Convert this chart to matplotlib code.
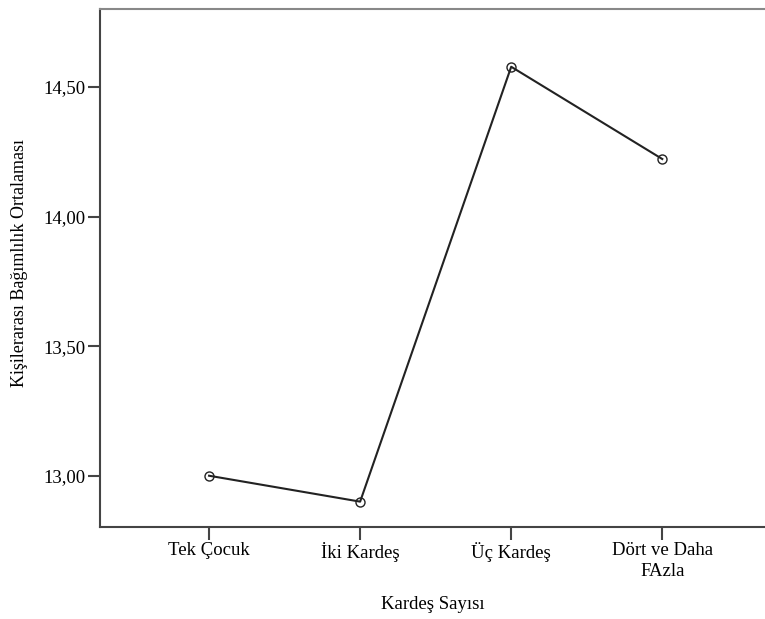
import matplotlib
matplotlib.use("Agg")
import matplotlib.pyplot as plt

categories = ["Tek Çocuk", "İki Kardeş", "Üç Kardeş", "Dört ve Daha\nFAzla"]
means = [13.00, 12.90, 14.578, 14.222]
yticks = [13.00, 13.50, 14.00, 14.50]
ytick_labels = ["13,00", "13,50", "14,00", "14,50"]

plt.rcParams['font.family'] = ['Liberation Serif', 'DejaVu Serif']

fig = plt.figure(figsize=(7.65, 6.19), dpi=100)
ax = fig.add_axes([100/765, 1 - 527.3/619, 665/765, (527.3 - 8.7)/619])

x = list(range(len(categories)))
ax.plot(x, means, color='#222222', lw=1.5, marker='o', markersize=6.5,
        markerfacecolor='none', markeredgecolor='#222222', markeredgewidth=1.0)

ax.set_xlim(-0.722, 3.68)
ax.set_ylim(12.801, 14.802)
ax.set_xticks(x)
ax.set_xticklabels(categories, fontsize=13.5, linespacing=1.3)
ax.set_yticks(yticks)
ax.set_yticklabels(ytick_labels, fontsize=13.5)
ax.tick_params(axis='both', direction='out', length=9, width=1.5, color='#444444', pad=1.5)

for side in ['left', 'bottom', 'top']:
    ax.spines[side].set_color('#444444')
    ax.spines[side].set_linewidth(1.5)
ax.spines['top'].set_color('#888888')
ax.spines['right'].set_visible(False)

ax.set_xlabel("Kardeş Sayısı", fontsize=13.5, labelpad=12)
ax.set_ylabel("Kişilerarası Bağımlılık Ortalaması", fontsize=13)
ax.yaxis.set_label_coords(-72/665, 0.51)

fig.savefig("out.png", dpi=100, facecolor='white')
